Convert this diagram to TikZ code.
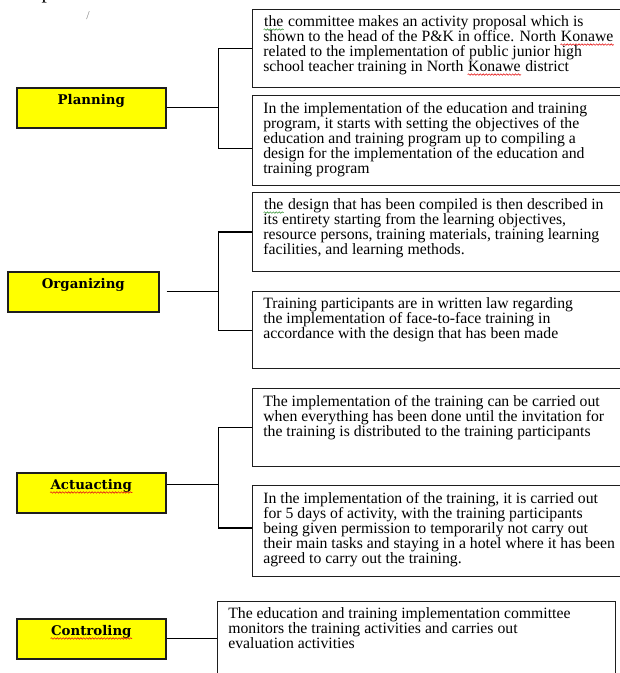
\documentclass[tikz,border=0pt]{standalone}
\usepackage{fontspec}
\setmainfont{Liberation Serif}
\newfontfamily\labelfont{DejaVu Serif}
\usetikzlibrary{decorations.pathmorphing}
\definecolor{spellred}{rgb}{0.9,0.1,0.1}
\definecolor{spellgreen}{rgb}{0.25,0.6,0.25}
\newcommand\spellmark[2]{\tikz[baseline=(w.base)]{\node[inner sep=0pt, minimum width=0pt, minimum height=0pt, text height=, text depth=] (w) {#2}; \draw[#1, line width=0.45pt, decorate, decoration={snake, amplitude=0.55pt, segment length=2.2pt}] ([yshift=-2pt]w.base west) -- ([yshift=-2pt]w.base east);}}
\newcommand\bodysize{\fontsize{11.8}{11.25}\selectfont}
\newcommand\notetext[3]{\parbox[c][#2][t]{#1}{\raggedright #3}}

\tikzset{every picture/.style={line width=0.75pt}}
\tikzset{
  stagebox/.style={draw={rgb, 255:red, 30; green, 30; blue, 30}, fill={rgb, 255:red, 255; green, 255; blue, 0}, line width=1.2pt, anchor=north west, minimum width=111.75pt, inner xsep=0pt, inner ysep=2pt, text height=10.75pt, text depth=15.25pt, font=\labelfont\bfseries\fontsize{10}{12}\selectfont},
  notebox/.style={draw={rgb, 255:red, 30; green, 30; blue, 30}, line width=1pt, anchor=north west, inner xsep=8pt, inner ysep=4.75pt, font=\bodysize}
}

\begin{document}
\begin{tikzpicture}[x=0.75pt,y=0.75pt,yscale=-1,xscale=1]
\useasboundingbox (0,0) rectangle (619,673);

% Text Node
\draw (41,-1.5) node [anchor=base west][inner sep=0pt, font=\fontsize{16}{18}\selectfont] (ptop) {p};
% Text Node
\draw (88,16) node [inner sep=0pt, font=\fontsize{9}{10}\selectfont, color=gray] (mark) {/};

%Shape: Rectangle
\draw (16,87) node [stagebox] (plan) {Planning};
%Shape: Rectangle
\draw (7,271) node [stagebox, minimum width=113.25pt] (org) {Organizing};
%Shape: Rectangle
\draw (16,472) node [stagebox] (act) {\spellmark{spellred}{Actuacting}};
%Shape: Rectangle
\draw (16,618) node [stagebox] (ctrl) {\spellmark{spellred}{Controling}};

%Shape: Rectangle
\draw (252,9) node [notebox] (b1) {\notetext{263.75pt}{49pt}{\spellmark{spellgreen}{the} committee makes an activity proposal which is\\
shown to the head of the P\&K in office. North \spellmark{spellred}{Konawe}\\
related to the implementation of public junior high\\
school teacher training in North \spellmark{spellred}{Konawe} district}};
%Shape: Rectangle
\draw (252,95) node [notebox] (b2) {\notetext{263.75pt}{58pt}{In the implementation of the education and training\\
program, it starts with setting the objectives of the\\
education and training program up to compiling a\\
design for the implementation of the education and\\
training program}};
%Shape: Rectangle
\draw (252,192) node [notebox] (b3) {\notetext{263.75pt}{49.75pt}{\spellmark{spellgreen}{the} design that has been compiled is then described in\\
its entirety starting from the learning objectives,\\
resource persons, training materials, training learning\\
facilities, and learning methods.}};
%Shape: Rectangle
\draw (252,291) node [notebox] (b4) {\notetext{263.75pt}{48.25pt}{Training participants are in written law regarding\\
the implementation of face-to-face training in\\
accordance with the design that has been made}};
%Shape: Rectangle
\draw (252,388) node [notebox] (b5) {\notetext{263.75pt}{49pt}{The implementation of the training can be carried out\\
when everything has been done until the invitation for\\
the training is distributed to the training participants}};
%Shape: Rectangle
\draw (252,485) node [notebox] (b6) {\notetext{263.75pt}{58.75pt}{In the implementation of the training, it is carried out\\
for 5 days of activity, with the training participants\\
being given permission to temporarily not carry out\\
their main tasks and staying in a hotel where it has been\\
agreed to carry out the training.}};
%Shape: Rectangle
\draw (217,601) node [notebox] (b7) {\notetext{282.5pt}{50.5pt}{The education and training implementation committee\\
monitors the training activities and carries out\\
evaluation activities}};

\path (plan.east) ++(52,0) coordinate (jp);
\path ([xshift=5.25pt]org.east) ++(52,0) coordinate (jo);
\path ([yshift=-6pt]act.east) ++(52,0) coordinate (ja);

%Straight Lines
\draw [line width=1pt] (plan.east) -- (jp);
\draw [line width=1pt] (b1.west) -| (jp) |- ([yshift=6pt]b2.west);
%Straight Lines
\draw [line width=1pt] ([xshift=5.25pt]org.east) -- (jo);
\draw [line width=1pt] (b3.west) -| (jo) |- (b4.west);
%Straight Lines
\draw [line width=1pt] ([yshift=-6pt]act.east) -- (ja);
\draw [line width=1pt] (b5.west) -| (ja) |- ([yshift=-2.5pt]b6.west);
%Straight Lines
\draw [line width=1pt] (ctrl.east) -- (ctrl.east -| b7.west);

\end{tikzpicture}
\end{document}
